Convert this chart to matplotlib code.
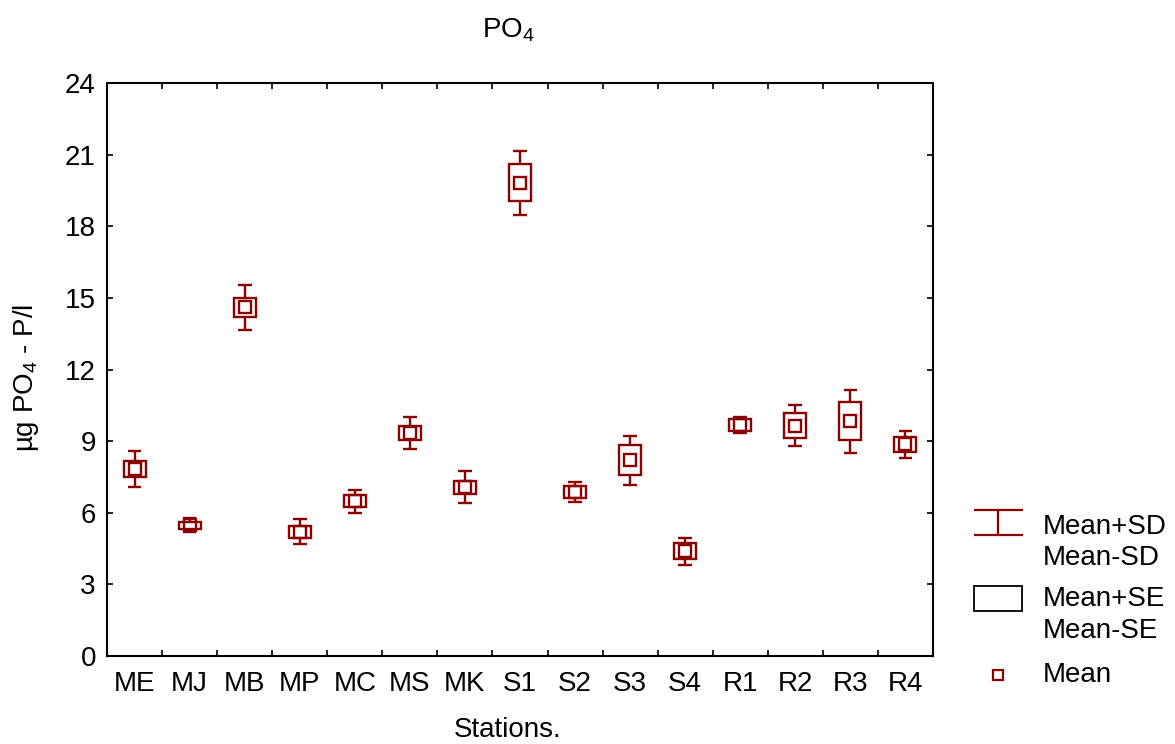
import numpy as np
import matplotlib
matplotlib.use("Agg")
import matplotlib.pyplot as plt
from matplotlib.patches import Rectangle

plt.rcParams['font.family'] = ['Liberation Sans', 'DejaVu Sans']
plt.rcParams['mathtext.fontset'] = 'custom'
plt.rcParams['mathtext.rm'] = 'Liberation Sans'
plt.rcParams['mathtext.it'] = 'Liberation Sans:italic'

# data
stations = ['ME', 'MJ', 'MB', 'MP', 'MC', 'MS', 'MK', 'S1', 'S2', 'S3', 'S4', 'R1', 'R2', 'R3', 'R4']
mean = np.array([7.83, 5.48, 14.60, 5.20, 6.48, 9.33, 7.06, 19.83, 6.87, 8.20, 4.39, 9.67, 9.65, 9.84, 8.87])
se = np.array([0.32, 0.15, 0.40, 0.26, 0.25, 0.29, 0.29, 0.77, 0.26, 0.62, 0.33, 0.24, 0.53, 0.80, 0.32])
sd = np.array([0.74, 0.28, 0.95, 0.52, 0.49, 0.67, 0.67, 1.34, 0.42, 1.03, 0.57, 0.34, 0.85, 1.32, 0.57])
yticks = [0, 3, 6, 9, 12, 15, 18, 21, 24]

col = '#8b0000'
fs = 20

fig = plt.figure(figsize=(11.75, 7.44), dpi=100)
ax = fig.add_axes([107/1175, 88/744, 826/1175, 573/744])

x = np.arange(len(stations))
box_w = 0.4
cap_w = 0.25

for xi, m, e, d in zip(x, mean, se, sd):
    ax.add_patch(Rectangle((xi - box_w/2, m - e), box_w, 2*e, fill=False, edgecolor=col, lw=1.7))
ax.vlines(x, mean + se, mean + sd, color=col, lw=1.7)
ax.vlines(x, mean - sd, mean - se, color=col, lw=1.7)
ax.hlines(mean + sd, x - cap_w/2, x + cap_w/2, color=col, lw=1.7)
ax.hlines(mean - sd, x - cap_w/2, x + cap_w/2, color=col, lw=1.7)
ax.plot(x, mean, 's', ms=8.5, mfc='none', mec=col, mew=1.7, ls='none')

ax.set_xlim(-0.5, len(stations) - 0.5)
ax.set_ylim(0, 24)
ax.set_yticks(yticks)
ax.set_xticks(x)
ax.set_xticklabels(stations)
ax.set_xticks(np.arange(len(stations) + 1) - 0.5, minor=True)
ax.tick_params(axis='x', which='major', length=0, labelsize=fs, pad=11)
ax.tick_params(axis='x', which='minor', direction='in', length=4, width=1.2, top=True, bottom=True)
ax.tick_params(axis='y', direction='in', length=4, width=1.2, right=True, labelsize=fs, pad=8)
for s in ax.spines.values():
    s.set_linewidth(1.5)

ax.set_xlabel('Stations.', fontsize=fs)
ax.xaxis.set_label_coords((508 - 107) / 826, -0.106)
ax.set_ylabel('µg PO$_4$ - P/l', fontsize=fs)
ax.yaxis.set_label_coords(-0.080, 1 - (378 - 83) / 573)
fig.text(508/1175, 1 - 30/744, 'PO$_4$', fontsize=fs, ha='center', va='center')

# legend drawn in pixel coordinates of the figure
lg = fig.add_axes([0, 0, 1, 1], facecolor='none')
lg.set_xlim(0, 1175)
lg.set_ylim(744, 0)
lg.axis('off')
lg.hlines([510, 535], 974, 1023, color=col, lw=1.6)
lg.vlines(998, 510, 535, color=col, lw=1.6)
lg.add_patch(Rectangle((974, 586), 48, 25, fill=False, edgecolor='black', lw=1.3))
lg.plot([998], [675], 's', ms=7, mfc='none', mec=col, mew=1.6)
for ty, t in [(527, 'Mean+SD'), (558, 'Mean-SD'), (599, 'Mean+SE'), (631, 'Mean-SE'), (675, 'Mean')]:
    lg.text(1043, ty, t, fontsize=fs, va='center', ha='left')

fig.savefig('out.png', dpi=100)
